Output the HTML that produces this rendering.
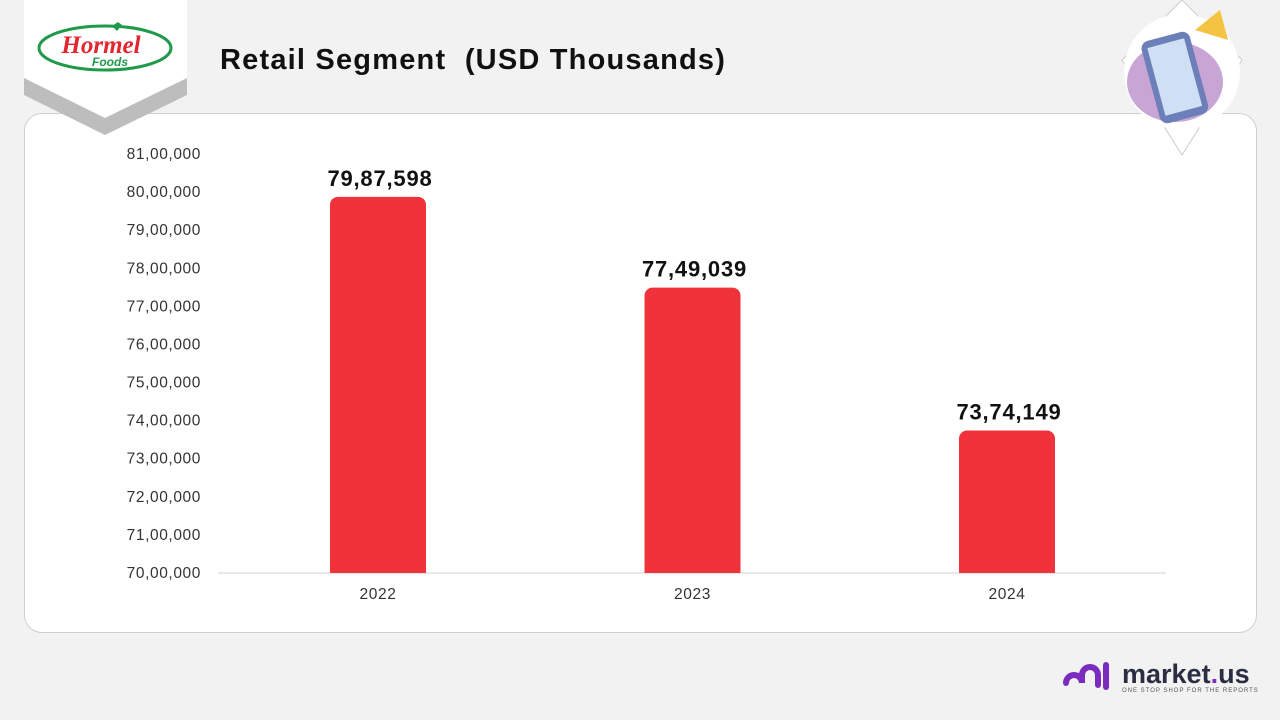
<!DOCTYPE html>
<html><head><meta charset="utf-8"><style>
body{margin:0;width:1280px;height:720px;background:#f2f2f2;font-family:"Liberation Sans",sans-serif;position:relative;overflow:hidden}
.card{position:absolute;left:24px;top:113px;width:1231px;height:518px;background:#fff;border:1px solid #cfcfcf;border-radius:18px}
h1{position:absolute;left:220px;top:44px;margin:0;font-size:29px;font-weight:bold;color:#111;letter-spacing:1.2px}
</style></head><body>
<div class="card"></div>
<svg style="position:absolute;left:0;top:0" width="260" height="150">
<polygon points="24,0 187,0 187,95 105,135 24,95" fill="#bdbdbd"/>
<polygon points="24,0 187,0 187,78 105,118 24,78" fill="#fff"/>
<ellipse cx="105" cy="48" rx="66" ry="22" fill="none" stroke="#1e9a4a" stroke-width="3"/>
<text x="101" y="53" font-size="25" font-weight="bold" font-style="italic" fill="#e3262f" text-anchor="middle" font-family="Liberation Serif,serif">Hormel</text>
<text x="110" y="66" font-size="12" font-weight="bold" font-style="italic" fill="#1e9a4a" text-anchor="middle">Foods</text>
<path d="M112,26 l6,-4 l4,3 l-5,6z" fill="#1e9a4a"/>
</svg>
<h1>Retail Segment&nbsp; (USD Thousands)</h1>
<svg style="position:absolute;left:1110px;top:0" width="150" height="160">
<polygon points="12,60 72,0 132,60 72,155" fill="#fff" stroke="#ccc"/>
<circle cx="72" cy="72" r="58" fill="#fff"/>
<ellipse cx="65" cy="82" rx="48" ry="40" fill="#c9a5d6"/>
<rect x="40" y="35" width="50" height="85" rx="8" fill="#6c7fb8" transform="rotate(-15 65 78)"/>
<rect x="46" y="42" width="38" height="70" fill="#cfe0f5" transform="rotate(-15 65 78)"/>
<polygon points="85,30 110,10 118,40" fill="#f5c342"/>
</svg>
<svg style="position:absolute;left:0;top:0" width="1280" height="720" id="chart"></svg>
<svg style="position:absolute;left:1060px;top:655px" width="200" height="40">
<path d="M6,28 a8,8 0 0 1 16,0 v-8 a8,8 0 0 1 16,0 v10" fill="none" stroke="#7b2cbf" stroke-width="6" stroke-linecap="round"/>
<line x1="46" y1="10" x2="46" y2="32" stroke="#7b2cbf" stroke-width="6" stroke-linecap="round"/>
<text x="62" y="28" font-size="27" font-weight="bold" fill="#2b2d42">market<tspan fill="#7b2cbf">.</tspan>us</text>
<text x="62" y="37" font-size="6" fill="#555" letter-spacing="1">ONE STOP SHOP FOR THE REPORTS</text>
</svg>
<script>
const categories=["2022","2023","2024"];
const values=[7987598,7749039,7374149];
const valueLabels=["79,87,598","77,49,039","73,74,149"];
const tickValues=[7000000,7100000,7200000,7300000,7400000,7500000,7600000,7700000,7800000,7900000,8000000,8100000];
const tickLabels=["70,00,000","71,00,000","72,00,000","73,00,000","74,00,000","75,00,000","76,00,000","77,00,000","78,00,000","79,00,000","80,00,000","81,00,000"];
const svg=document.getElementById('chart');const NS="http://www.w3.org/2000/svg";
const y=v=>573-(v-7000000)/1100000*419;
const x=i=>378+i*314.5;
function mk(t,a,txt){const e=document.createElementNS(NS,t);for(const k in a)e.setAttribute(k,a[k]);if(txt!=null)e.textContent=txt;svg.appendChild(e);return e;}
tickValues.forEach((v,i)=>{const t=mk('text',{x:201,y:y(v)+5,'text-anchor':'end','font-size':15.5,'letter-spacing':0.6,fill:'#333'},tickLabels[i]);

});
const ax=mk('line',{x1:218,x2:1166,y1:573,y2:573,stroke:'#d0d0d0'});


categories.forEach((c,i)=>{
const top=y(values[i]);
const b=mk('path',{d:`M${x(i)-48},573 V${top+8} a8,8 0 0 1 8,-8 H${x(i)+40} a8,8 0 0 1 8,8 V573 Z`,fill:'#f0323a'});


const l=mk('text',{x:x(i)+2,y:top-11,'text-anchor':'middle','font-size':22,'font-weight':'bold','letter-spacing':0.8,fill:'#111'},valueLabels[i]);


const xl=mk('text',{x:x(i),y:599,'text-anchor':'middle','font-size':15.5,'letter-spacing':0.6,fill:'#333'},c);


});
</script>
</body></html>
